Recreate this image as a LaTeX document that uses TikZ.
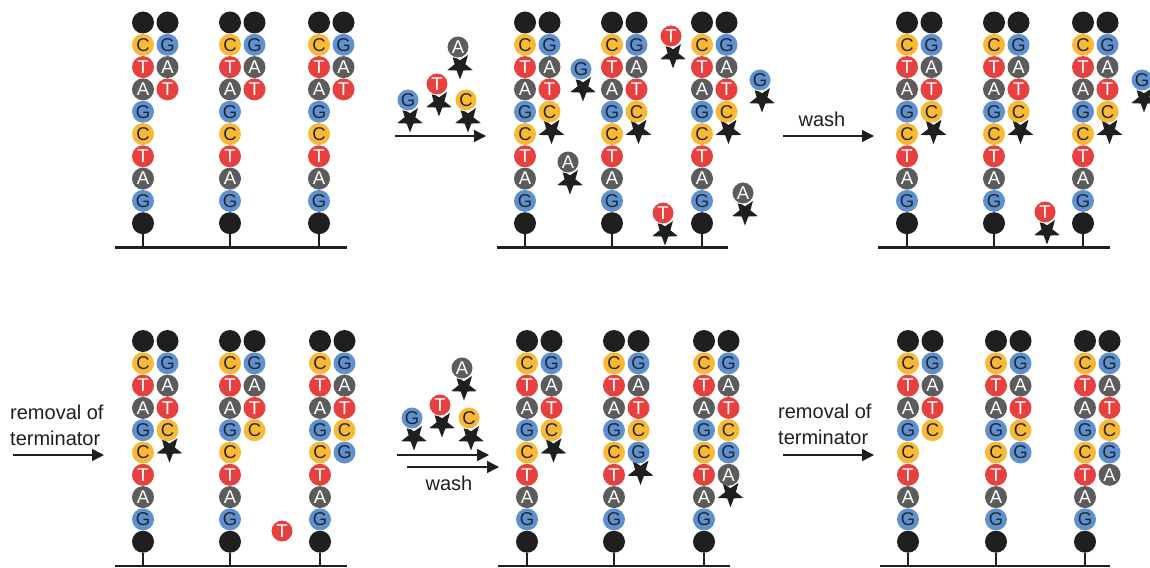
\documentclass[tikz,border=0pt]{standalone}
\usepackage{fontspec}
\setmainfont{Liberation Sans}
\usetikzlibrary{shapes.geometric,arrows.meta}
\definecolor{fC}{HTML}{F9B934}
\definecolor{fT}{HTML}{E6403F}
\definecolor{fA}{HTML}{5C5C5C}
\definecolor{fG}{HTML}{5E91D1}
\definecolor{tC}{HTML}{262626}
\definecolor{tG}{HTML}{262626}
\definecolor{tT}{HTML}{FFFFFF}
\definecolor{tA}{HTML}{FFFFFF}
\definecolor{ink}{HTML}{1F1F1F}
\tikzset{
 nuc/.style={circle, minimum size=22pt, inner sep=0pt, font=\fontsize{18.5}{18.5}\selectfont},
 blk/.style={circle, minimum size=22pt, inner sep=0pt, fill=ink},
 term/.style={star, star points=5, star point ratio=2.4, minimum size=27pt, inner sep=0pt, fill=ink, shape border rotate=180},
 freec/.style={nuc, draw=white, line width=0.8pt},
 stem/.style={draw=ink, line width=1.2pt},
 surface/.style={draw=ink, line width=2.5pt},
 arr/.style={draw=ink, line width=1.5pt, -{Triangle[length=12pt,width=12pt]}},
 lbl/.style={font=\fontsize{20}{26}\selectfont, text=ink, inner sep=0pt},
}
% #1 name, #2 x, #3 y of top black bead, #4 right column, #5 row of terminator star (0 = none)
\newcommand\dnastrand[5]{%
  \node[blk] (#1t) at (#2,#3) {};
  \node[blk] (#1tr) at (#2+24.5,#3) {};
  \foreach \L [count=\i] in {C,T,A,G,C,T,A,G}
    {\node[nuc, fill=f\L, text=t\L] (#1l\i) at (#2,#3+\i*22.3) {\L};}
  \node[blk] (#1b) at (#2,#3+200.7) {};
  \coordinate (#1f) at (#2,#3+225);
  \draw[stem] (#1b.south) -- (#1f);
  \ifnum#5>0 \node[term] (#1s) at (#2+26.5,#3+#5*22.3+19) {};\fi
  \foreach \L [count=\i] in {#4}
    {\node[nuc, fill=f\L, text=t\L] (#1r\i) at (#2+24.5,#3+\i*22.3) {\L};}
}
% #1 name, #2 x, #3 y, #4 letter, #5 star (1/0)
\newcommand\freenuc[5]{%
  \ifnum#5=1 \node[term] (#1s) at (#2+2,#3+19) {};\fi
  \node[freec, fill=f#4, text=t#4] (#1) at (#2,#3) {#4};
}
\begin{document}
\begin{tikzpicture}[x=1pt,y=-1pt]
\useasboundingbox (0,0) rectangle (1150,567);
% ---------- panel 1
\coordinate (s1L) at (115,247.5); \coordinate (s1R) at (347,247.5);
\draw[surface] (s1L) -- (s1R);
\dnastrand{pa}{143}{22.5}{G,A,T}{0}
\dnastrand{pb}{230}{22.5}{G,A,T}{0}
\dnastrand{pc}{319}{22.5}{G,A,T}{0}
% arrow 1
\coordinate (a1s) at (395,136); \coordinate (a1e) at (486,136);
\draw[arr] (a1s) -- (a1e);
\freenuc{ra1}{408}{100}{G}{1}
\freenuc{ra2}{437}{84}{T}{1}
\freenuc{ra3}{458}{47}{A}{1}
\freenuc{ra4}{466}{100}{C}{1}
% ---------- panel 2
\coordinate (s2L) at (497,247.5); \coordinate (s2R) at (728,247.5);
\draw[surface] (s2L) -- (s2R);
\dnastrand{qa}{525}{22.5}{G,A,T,C}{4}
\dnastrand{qb}{612}{22.5}{G,A,T,C}{4}
\dnastrand{qc}{702}{22.5}{G,A,T,C}{4}
\freenuc{f1}{581}{69}{G}{1}
\freenuc{f2}{671}{36}{T}{1}
\freenuc{f3}{760}{80}{G}{1}
\freenuc{f4}{568}{162}{A}{1}
\freenuc{f5}{663}{213}{T}{1}
\freenuc{f6}{743}{193}{A}{1}
% arrow 2
\coordinate (a2s) at (783,136); \coordinate (a2e) at (874,136);
\draw[arr] (a2s) -- (a2e);
\node[lbl, anchor=base] (w1) at (822,127) {wash};
% ---------- panel 3
\coordinate (s3L) at (878,247.5); \coordinate (s3R) at (1110,247.5);
\draw[surface] (s3L) -- (s3R);
\dnastrand{ua}{907}{22.5}{G,A,T,C}{4}
\dnastrand{ub}{994}{22.5}{G,A,T,C}{4}
\dnastrand{uc}{1083}{22.5}{G,A,T,C}{4}
\freenuc{g1}{1142}{80}{G}{1}
\freenuc{g2}{1045}{212}{T}{1}
% ---------- panel 4
\coordinate (a3s) at (13,455); \coordinate (a3e) at (104,455);
\draw[arr] (a3s) -- (a3e);
\node[lbl, anchor=base west] (rm1) at (10,419) {removal of};
\node[lbl, anchor=base west] (tm1) at (10,445) {terminator};
\coordinate (s4L) at (115,566); \coordinate (s4R) at (347,566);
\draw[surface] (s4L) -- (s4R);
\dnastrand{va}{143}{341}{G,A,T,C}{4}
\dnastrand{vb}{230}{341}{G,A,T,C}{0}
\dnastrand{vc}{320}{341}{G,A,T,C,G}{0}
\freenuc{h1}{282}{531}{T}{0}
% ---------- panel 5
\coordinate (a4s) at (397,455); \coordinate (a4e) at (489,455);
\draw[arr] (a4s) -- (a4e);
\coordinate (a5s) at (407,467); \coordinate (a5e) at (499,467);
\draw[arr] (a5s) -- (a5e);
\node[lbl, anchor=base] (w2) at (449,490) {wash};
\freenuc{rb1}{412}{418}{G}{1}
\freenuc{rb2}{440}{405}{T}{1}
\freenuc{rb3}{462}{368}{A}{1}
\freenuc{rb4}{469}{418}{C}{1}
\coordinate (s5L) at (498,566); \coordinate (s5R) at (730,566);
\draw[surface] (s5L) -- (s5R);
\dnastrand{wa}{527}{341}{G,A,T,C}{4}
\dnastrand{wb}{614}{341}{G,A,T,C,G}{5}
\dnastrand{wc}{704}{341}{G,A,T,C,G,A}{6}
% ---------- panel 6
\coordinate (a6s) at (783,455); \coordinate (a6e) at (874,455);
\draw[arr] (a6s) -- (a6e);
\node[lbl, anchor=base west] (rm2) at (778,418) {removal of};
\node[lbl, anchor=base west] (tm2) at (778,444) {terminator};
\coordinate (s6L) at (880,566); \coordinate (s6R) at (1110,566);
\draw[surface] (s6L) -- (s6R);
\dnastrand{xa}{908}{341}{G,A,T,C}{0}
\dnastrand{xb}{996}{341}{G,A,T,C,G}{0}
\dnastrand{xc}{1085}{341}{G,A,T,C,G,A}{0}
\end{tikzpicture}
\end{document}
